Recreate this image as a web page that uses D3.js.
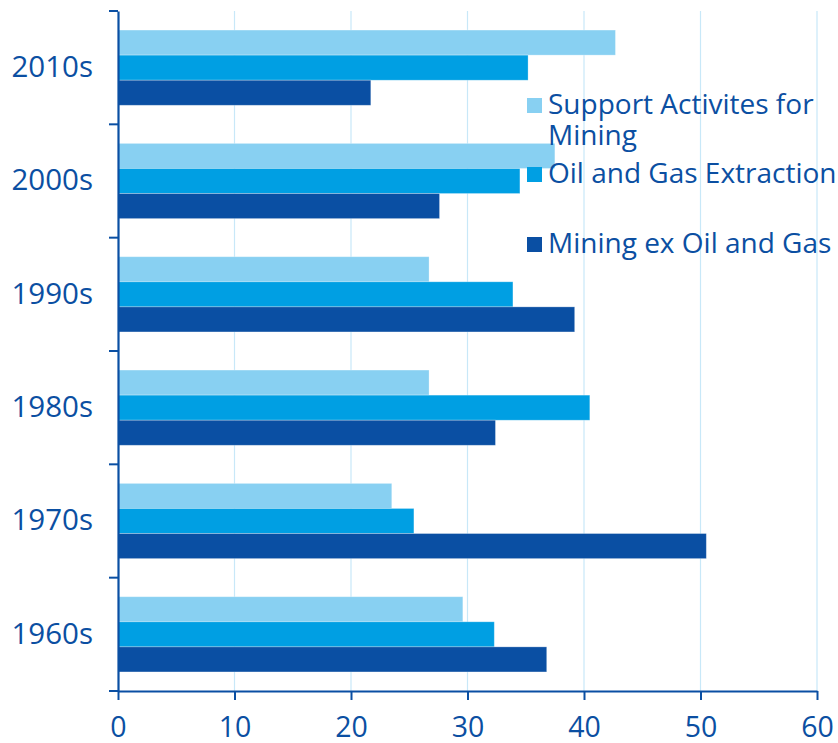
<!DOCTYPE html>
<html>
<head>
<meta charset="utf-8">
<script src="https://cdn.jsdelivr.net/npm/d3@7"></script>
<style>
  html, body { margin: 0; padding: 0; background: #fff; }
  svg { display: block; }
</style>
</head>
<body>
<svg id="chart" width="838" height="743"></svg>
<script>
// Decades, top to bottom
const decades = ["2010s", "2000s", "1990s", "1980s", "1970s", "1960s"];
// Series values, in the same decade order
const supportActivities = [42.7, 37.5, 26.7, 26.7, 23.5, 29.6];
const oilGasExtraction  = [35.2, 34.5, 33.9, 40.5, 25.4, 32.3];
const miningExOilGas    = [21.7, 27.6, 39.2, 32.4, 50.5, 36.8];
const seriesNames = ["Support Activites for Mining", "Oil and Gas Extraction", "Mining ex Oil and Gas"];
const seriesColors = ["#88d0f2", "#009fe3", "#0a4fa3"];
const xTicks = [0, 10, 20, 30, 40, 50, 60];

const seriesValues = [supportActivities, oilGasExtraction, miningExOilGas];
const rows = decades.map((d, i) => ({
  decade: d,
  values: seriesNames.map((s, k) => ({ key: s, value: seriesValues[k][i], color: seriesColors[k] }))
}));

const W = 838, H = 743;
const margin = { top: 11, right: 21, bottom: 52, left: 118 };
const iw = W - margin.left - margin.right;
const ih = H - margin.top - margin.bottom;
const axisColor = "#0a4fa3";
const textColor = "#0b4fa2";
const font = "'Open Sans', sans-serif";

const svg = d3.select("#chart");
const g = svg.append("g").attr("transform", `translate(${margin.left},${margin.top})`);

const x = d3.scaleLinear().domain([0, 60]).range([0, iw]);
const y = d3.scaleBand().domain(decades).range([0, ih]).paddingInner(0).paddingOuter(0);
const yInner = d3.scaleBand().domain(seriesNames).range([0, y.bandwidth()]).paddingOuter(0.76).paddingInner(0);

// vertical gridlines
g.append("g").selectAll("line").data(xTicks.slice(1)).join("line")
  .attr("x1", d => x(d)).attr("x2", d => x(d))
  .attr("y1", 0).attr("y2", ih)
  .attr("stroke", "#c8e8f8").attr("stroke-width", 1.2);

// bars
const groups = g.append("g").selectAll("g").data(rows).join("g")
  .attr("transform", d => `translate(0,${y(d.decade)})`);
groups.selectAll("rect").data(d => d.values).join("rect")
  .attr("x", 0)
  .attr("y", d => yInner(d.key))
  .attr("width", d => x(d.value))
  .attr("height", yInner.bandwidth())
  .attr("fill", d => d.color)
  .attr("stroke", "rgba(255,255,255,0.35)")
  .attr("stroke-width", 0.8);

// x axis
const xAxis = g.append("g").attr("transform", `translate(0,${ih})`)
  .call(d3.axisBottom(x).tickValues(xTicks).tickSize(9).tickSizeOuter(0).tickPadding(17));
xAxis.select(".domain").attr("stroke", axisColor).attr("stroke-width", 2.2);
xAxis.selectAll(".tick line").attr("stroke", axisColor).attr("stroke-width", 2);
xAxis.selectAll(".tick text").attr("fill", textColor).attr("font-family", font).attr("font-size", 28.5);

// y axis: labels centred in each band, ticks on band boundaries
const yAxis = g.append("g")
  .call(d3.axisLeft(y).tickSize(0).tickPadding(25));
yAxis.select(".domain").attr("stroke", axisColor).attr("stroke-width", 2.2);
yAxis.selectAll(".tick text").attr("fill", textColor).attr("font-family", font).attr("font-size", 29.5);
const boundaries = decades.map(d => y(d)).concat([ih]);
g.append("g").selectAll("line").data(boundaries).join("line")
  .attr("x1", -9).attr("x2", 0)
  .attr("y1", d => d).attr("y2", d => d)
  .attr("stroke", axisColor).attr("stroke-width", 2);

// legend
const legendItems = [
  { lines: ["Support Activites for", "Mining"], color: seriesColors[0], y: 114 },
  { lines: ["Oil and Gas Extraction"], color: seriesColors[1], y: 183 },
  { lines: ["Mining ex Oil and Gas"], color: seriesColors[2], y: 253 }
];
const legend = svg.append("g");
legendItems.forEach(item => {
  legend.append("rect")
    .attr("x", 527).attr("y", item.y - 16)
    .attr("width", 15).attr("height", 15)
    .attr("fill", item.color);
  const t = legend.append("text")
    .attr("x", 548).attr("y", item.y)
    .attr("fill", textColor).attr("font-family", font).attr("font-size", 28);
  item.lines.forEach((ln, i) => {
    t.append("tspan").attr("x", 548).attr("dy", i === 0 ? 0 : 31).text(ln);
  });
});
</script>
</body>
</html>
